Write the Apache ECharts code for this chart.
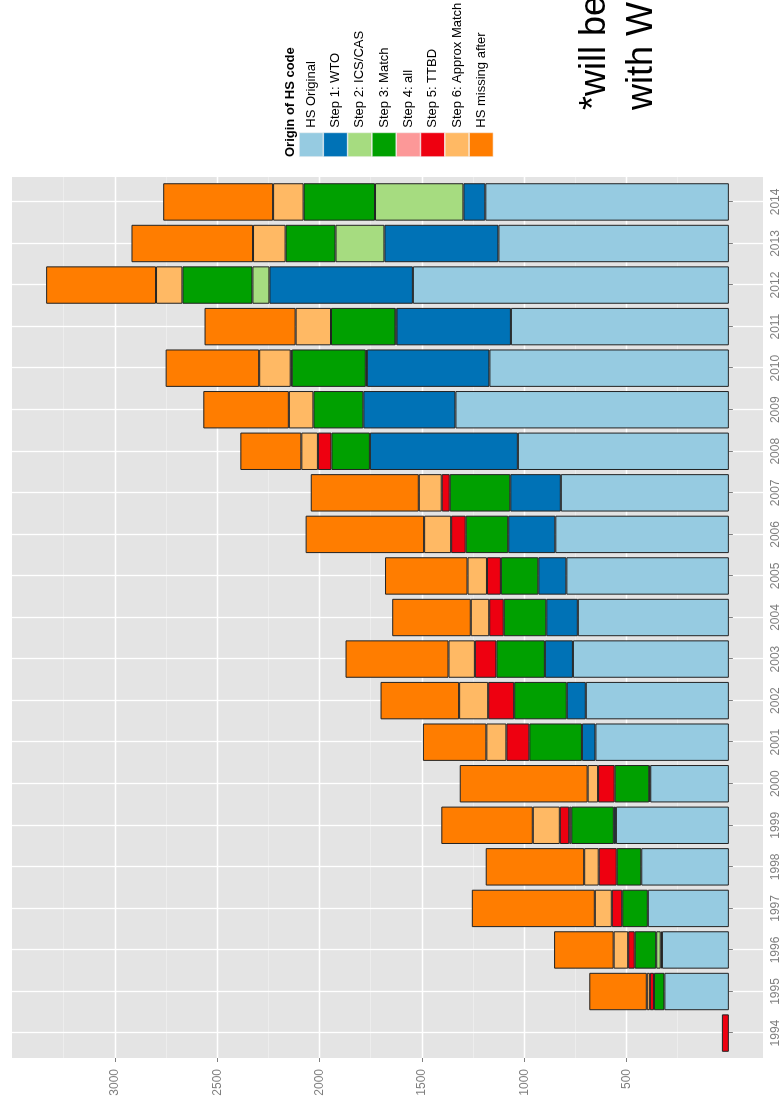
<!DOCTYPE html>
<html>
<head>
<meta charset="utf-8">
<script src="https://cdn.jsdelivr.net/npm/echarts@6/dist/echarts.min.js"></script>
<style>
html, body { margin:0; padding:0; background:#fff; overflow:hidden; width:784px; height:1113px; }
#wrap { position:absolute; left:0; top:0; width:1113px; height:784px;
        transform-origin:0 0; transform:translateY(1113px) rotate(-90deg); background:#fff; }
</style>
</head>
<body>
<div id="wrap"></div>
<script>
// ---------------- data ----------------
const years = ['1994','1995','1996','1997','1998','1999','2000','2001','2002','2003','2004',
               '2005','2006','2007','2008','2009','2010','2011','2012','2013','2014'];

const hsOriginal  = [null, 315, 327, 396, 428, 552, 384, 652, 699, 762, 738, 794, 848, 821, 1031, 1336, 1170, 1065, 1544, 1126, 1190];
const step1WTO    = [null, null, 6, null, null, 10, 5, 66, 93, 137, 154, 137, 230, 247, 723, 450, 599, 559, 701, 557, 107];
const step2ICS    = [null, null, 22, null, null, null, null, null, null, null, null, null, null, null, null, null, 5, 5, 83, 239, 432];
const step3Match  = [null, 51, 105, 125, 120, 208, 169, 257, 257, 237, 208, 183, 208, 296, 188, 244, 362, 315, 342, 244, 349];
const step4All    = [null, null, null, null, null, 10, null, null, null, null, null, null, null, null, null, null, null, null, null, null, null];
const step5TTBD   = [34, 20, 32, 51, 88, 46, 81, 112, 127, 105, 71, 68, 71, 39, 66, null, 5, null, null, null, null];
const step6Approx = [null, 15, 71, 83, 71, 132, 51, 98, 142, 129, 90, 95, 132, 112, 81, 120, 154, 173, 129, 159, 149];
const hsMissing   = [null, 281, 291, 601, 481, 447, 625, 310, 384, 503, 384, 403, 579, 528, 298, 418, 457, 445, 537, 594, 537];

const seriesNames  = ['HS Original', 'Step 1: WTO', 'Step 2: ICS/CAS', 'Step 3: Match',
                      'Step 4: all', 'Step 5: TTBD', 'Step 6: Approx Match', 'HS missing after'];
const seriesData   = [hsOriginal, step1WTO, step2ICS, step3Match, step4All, step5TTBD, step6Approx, hsMissing];
const seriesColors = ['#96cbe1', '#0072b6', '#a6dc80', '#00a000', '#fc9898', '#ee0010', '#ffb964', '#ff7d00'];

const valueBreaks = [500, 1000, 1500, 2000, 2500, 3000];
const legendTitle = 'Origin of HS code';
const noteLines = ['*will be', 'with W'];

// ---------------- layout ----------------
const FONT = '"Liberation Sans", Arial, Helvetica, sans-serif';
const PANEL = { left: 55, top: 12, width: 881, height: 751 };

const totals = years.map((_, i) => seriesData.reduce((s, arr) => s + (arr[i] || 0), 0));
const maxTotal = Math.max.apply(null, totals);
const hi = maxTotal * 1.05, lo = -maxTotal * 0.05;
const k = PANEL.height / (hi - lo);
const y0 = PANEL.top + hi * k;

const step = valueBreaks[1] - valueBreaks[0];
const vMin = valueBreaks[0], vMax = valueBreaks[valueBreaks.length - 1];
const mMin = vMin - step / 2, mMax = vMax + step / 2;

const band = PANEL.width / (years.length - 1 + 1.2);
const dLeft = PANEL.left + 0.6 * band;
const dWidth = band * (years.length - 1);

const GREY = '#7f7f7f';

const chart = echarts.init(document.getElementById('wrap'), null, { renderer: 'canvas', width: 1113, height: 784 });

const option = {
  animation: false,
  backgroundColor: '#fff',
  textStyle: { fontFamily: FONT },
  title: {
    text: legendTitle, left: 956, top: 284, padding: 0,
    textStyle: { fontSize: 13, fontWeight: 'bold', color: '#000', fontFamily: FONT }
  },
  legend: {
    data: seriesNames, orient: 'vertical', left: 956, top: 299, padding: 0,
    itemWidth: 24, itemHeight: 23.7, itemGap: 0, icon: 'rect', selectedMode: false,
    itemStyle: { borderColor: '#f2f2f2', borderWidth: 0.6 },
    textStyle: { fontSize: 13, color: '#000', fontFamily: FONT }
  },
  grid: [
    { left: PANEL.left, top: PANEL.top, width: PANEL.width, height: PANEL.height,
      show: true, backgroundColor: '#e4e4e4', borderWidth: 0, containLabel: false, outerBoundsMode: 'none' },
    { left: PANEL.left, top: y0 - vMax * k, width: PANEL.width, height: (vMax - vMin) * k,
      show: false, containLabel: false, outerBoundsMode: 'none' },
    { left: PANEL.left, top: y0 - mMax * k, width: PANEL.width, height: (mMax - mMin) * k,
      show: false, containLabel: false, outerBoundsMode: 'none' },
    { left: dLeft, top: PANEL.top, width: dWidth, height: PANEL.height,
      show: false, containLabel: false, outerBoundsMode: 'none' }
  ],
  xAxis: [
    { gridIndex: 0, type: 'value', show: false },
    { gridIndex: 1, type: 'value', show: false },
    { gridIndex: 2, type: 'value', show: false },
    { gridIndex: 3, type: 'category', data: years, boundaryGap: false,
      axisLine: { show: false },
      axisTick: { show: true, length: 4, interval: 0, lineStyle: { color: GREY, width: 1 } },
      axisLabel: { interval: 0, color: GREY, fontSize: 12, margin: 7, fontFamily: FONT },
      splitLine: { show: true, interval: 0, lineStyle: { color: '#ffffff', width: 1.3 } } }
  ],
  yAxis: [
    { gridIndex: 0, type: 'value', show: false },
    { gridIndex: 1, type: 'value', min: vMin, max: vMax, interval: step,
      axisLine: { show: false },
      axisTick: { show: true, length: 4, lineStyle: { color: GREY, width: 1 } },
      axisLabel: { color: GREY, fontSize: 12, margin: 11, showMinLabel: true, showMaxLabel: true,
                   fontFamily: FONT, formatter: v => String(Math.round(v)) },
      splitLine: { show: true, lineStyle: { color: '#ffffff', width: 1.3 } } },
    { gridIndex: 2, type: 'value', min: mMin, max: mMax, interval: step,
      axisLine: { show: false }, axisTick: { show: false }, axisLabel: { show: false },
      splitLine: { show: true, lineStyle: { color: '#f3f3f3', width: 0.6 } } },
    { gridIndex: 3, type: 'value', min: lo, max: hi, show: false }
  ],
  series: seriesNames.map((name, i) => ({
    name: name, type: 'bar', stack: 'total', xAxisIndex: 3, yAxisIndex: 3,
    data: seriesData[i], barWidth: '90%', clip: false,
    itemStyle: { color: seriesColors[i], borderColor: '#222', borderWidth: 1 },
    emphasis: { disabled: true }
  })),
  graphic: noteLines.map((t, i) => ({
    type: 'text', x: 1003, y: 595 + i * 47, silent: true,
    style: { text: t, fontSize: 36, fontFamily: FONT, fill: '#000', align: 'left', verticalAlign: 'middle' }
  }))
};

chart.setOption(option);
</script>
</body>
</html>
